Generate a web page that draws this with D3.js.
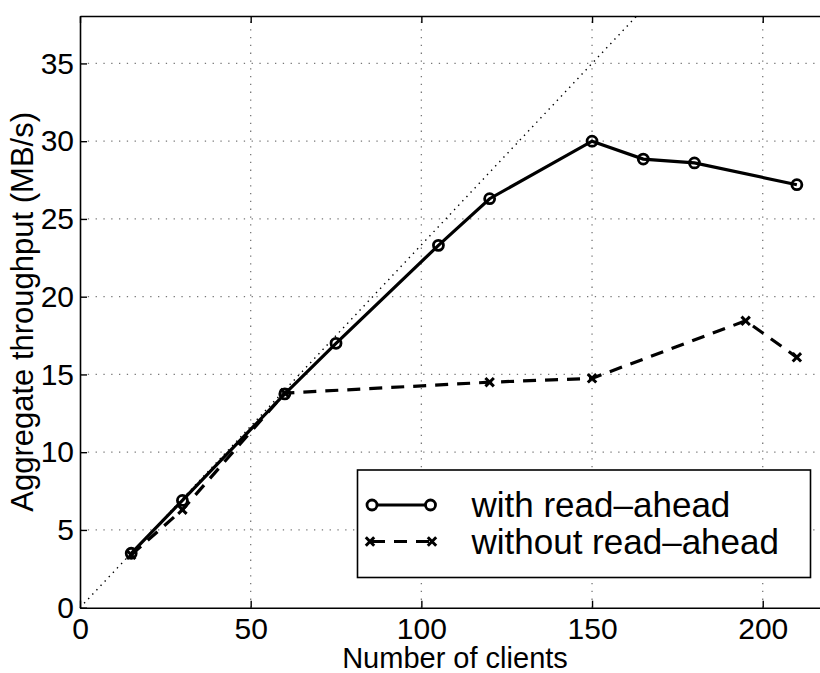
<!DOCTYPE html>
<html>
<head>
<meta charset="utf-8">
<script src="https://cdn.jsdelivr.net/npm/d3@7"></script>
<style>
body { margin: 0; background: #fff; }
text { font-family: "Liberation Sans", Arial, sans-serif; fill: #000; }
</style>
</head>
<body>
<script>
//wrap everything in an anonymous function so nothing is in global scope
(function (){

    //data
    var clientsWith = [15, 30, 60, 75, 105, 120, 150, 165, 180, 210];
    var throughputWith = [3.5, 6.9, 13.75, 17.0, 23.3, 26.3, 30.0, 28.85, 28.6, 27.2];
    var clientsWithout = [15, 30, 60, 120, 150, 195, 210];
    var throughputWithout = [3.4, 6.3, 13.8, 14.5, 14.75, 18.45, 16.1];
    var idealSlope = 3.5 / 15; //per-client rate of the dotted ideal line
    var xTicks = [0, 50, 100, 150, 200];
    var yTicks = [0, 5, 10, 15, 20, 25, 30, 35];
    var seriesNames = ["with read\u2013ahead", "without read\u2013ahead"];

    var width = 820, height = 673;
    var left = 80, top = 16, right = 831, bottom = 607.7;

    var svg = d3.select("body")
        .append("svg")
        .attr("width", width)
        .attr("height", height);

    var x = d3.scaleLinear().domain([0, 220]).range([left, right]);
    var y = d3.scaleLinear().domain([0, 38.05]).range([bottom, top]);

    //dotted grid lines
    svg.selectAll(".gridX")
        .data(xTicks.slice(1))
        .enter()
        .append("line")
        .attr("x1", function(d){ return x(d); })
        .attr("x2", function(d){ return x(d); })
        .attr("y1", bottom)
        .attr("y2", top)
        .style("stroke", "#777")
        .style("stroke-width", 1.3)
        .style("stroke-dasharray", "1.3,6.5");

    svg.selectAll(".gridY")
        .data(yTicks.slice(1))
        .enter()
        .append("line")
        .attr("y1", function(d){ return y(d); })
        .attr("y2", function(d){ return y(d); })
        .attr("x1", left)
        .attr("x2", right)
        .style("stroke", "#777")
        .style("stroke-width", 1.3)
        .style("stroke-dasharray", "1.3,6.5");

    //ideal linear scaling line
    var idealEnd = 38.05 / idealSlope;
    svg.append("line")
        .attr("x1", x(0))
        .attr("y1", y(0))
        .attr("x2", x(idealEnd))
        .attr("y2", y(idealEnd * idealSlope))
        .style("stroke", "#000")
        .style("stroke-width", 1.4)
        .style("stroke-dasharray", "1.4,4.6");

    //axes: MATLAB style box with inward ticks
    var axBottom = d3.axisBottom(x).tickValues(xTicks).tickSizeInner(-7).tickSizeOuter(0).tickPadding(10).tickFormat(d3.format("d"));
    var axLeft = d3.axisLeft(y).tickValues(yTicks).tickSizeInner(-7).tickSizeOuter(0).tickPadding(6).tickFormat(d3.format("d"));
    var axTop = d3.axisTop(x).tickValues(xTicks).tickSizeInner(-7).tickSizeOuter(0).tickFormat("");
    var axRight = d3.axisRight(y).tickValues(yTicks).tickSizeInner(-7).tickSizeOuter(0).tickFormat("");

    function styleAxis(g){
        g.attr("font-size", null).attr("font-family", null);
        g.select(".domain").style("stroke", "#000").style("stroke-width", 1.6);
        g.selectAll(".tick line").style("stroke", "#000").style("stroke-width", 1.4);
        g.selectAll(".tick text").style("font-size", "30px").attr("fill", "#000");
    }

    svg.append("g").attr("transform", "translate(0," + bottom + ")").call(axBottom).call(styleAxis);
    svg.append("g").attr("transform", "translate(" + left + ",0)").call(axLeft).call(styleAxis);
    svg.append("g").attr("transform", "translate(0," + top + ")").call(axTop).call(styleAxis);
    svg.append("g").attr("transform", "translate(" + right + ",0)").call(axRight).call(styleAxis);

    //line generator
    var line = d3.line()
        .x(function(d){ return x(d[0]); })
        .y(function(d){ return y(d[1]); });

    var withData = clientsWith.map(function(c, i){ return [c, throughputWith[i]]; });
    var withoutData = clientsWithout.map(function(c, i){ return [c, throughputWithout[i]]; });

    //without read-ahead, dashed with x markers
    svg.append("path")
        .datum(withoutData)
        .attr("d", line)
        .style("fill", "none")
        .style("stroke", "#000")
        .style("stroke-width", 3.2)
        .style("stroke-dasharray", "13,9");

    function xMark(g, cx, cy){
        var s = 4.2;
        g.append("path")
            .attr("d", "M" + (cx - s) + "," + (cy - s) + "L" + (cx + s) + "," + (cy + s) +
                "M" + (cx - s) + "," + (cy + s) + "L" + (cx + s) + "," + (cy - s))
            .style("stroke", "#000")
            .style("stroke-width", 3)
            .style("fill", "none");
    }

    var marks = svg.append("g");
    withoutData.forEach(function(d){ xMark(marks, x(d[0]), y(d[1])); });

    //with read-ahead, solid with circle markers
    svg.append("path")
        .datum(withData)
        .attr("d", line)
        .style("fill", "none")
        .style("stroke", "#000")
        .style("stroke-width", 3.2);

    svg.selectAll(".circ")
        .data(withData)
        .enter()
        .append("circle")
        .attr("cx", function(d){ return x(d[0]); })
        .attr("cy", function(d){ return y(d[1]); })
        .attr("r", 5)
        .style("fill", "none")
        .style("stroke", "#000")
        .style("stroke-width", 2.8);

    //legend
    var legend = svg.append("g");
    legend.append("rect")
        .attr("x", 357.5)
        .attr("y", 470)
        .attr("width", 453)
        .attr("height", 107.5)
        .style("fill", "#fff")
        .style("stroke", "#000")
        .style("stroke-width", 1.6);

    var rowY = [505, 541.5];
    legend.append("line")
        .attr("x1", 372).attr("x2", 430.5)
        .attr("y1", rowY[0]).attr("y2", rowY[0])
        .style("stroke", "#000").style("stroke-width", 3.2);
    [372, 430.5].forEach(function(cx){
        legend.append("circle")
            .attr("cx", cx).attr("cy", rowY[0]).attr("r", 5)
            .style("fill", "#fff").style("stroke", "#000").style("stroke-width", 2.8);
    });
    legend.append("line")
        .attr("x1", 372).attr("x2", 430.5)
        .attr("y1", rowY[1]).attr("y2", rowY[1])
        .style("stroke", "#000").style("stroke-width", 3.2)
        .style("stroke-dasharray", "13,9");
    xMark(legend, 370, rowY[1]);
    xMark(legend, 432, rowY[1]);

    legend.selectAll(".legText")
        .data(seriesNames)
        .enter()
        .append("text")
        .attr("x", 471.5)
        .attr("y", function(d, i){ return rowY[i] + 12; })
        .style("font-size", "35px")
        .text(function(d){ return d; });

    //axis titles
    svg.append("text")
        .attr("x", 455)
        .attr("y", 668)
        .attr("text-anchor", "middle")
        .style("font-size", "29px")
        .text("Number of clients");

    svg.append("text")
        .attr("transform", "translate(33," + ((top + bottom) / 2) + ") rotate(-90)")
        .attr("text-anchor", "middle")
        .style("font-size", "31px")
        .text("Aggregate throughput (MB/s)");

})();
</script>
</body>
</html>
